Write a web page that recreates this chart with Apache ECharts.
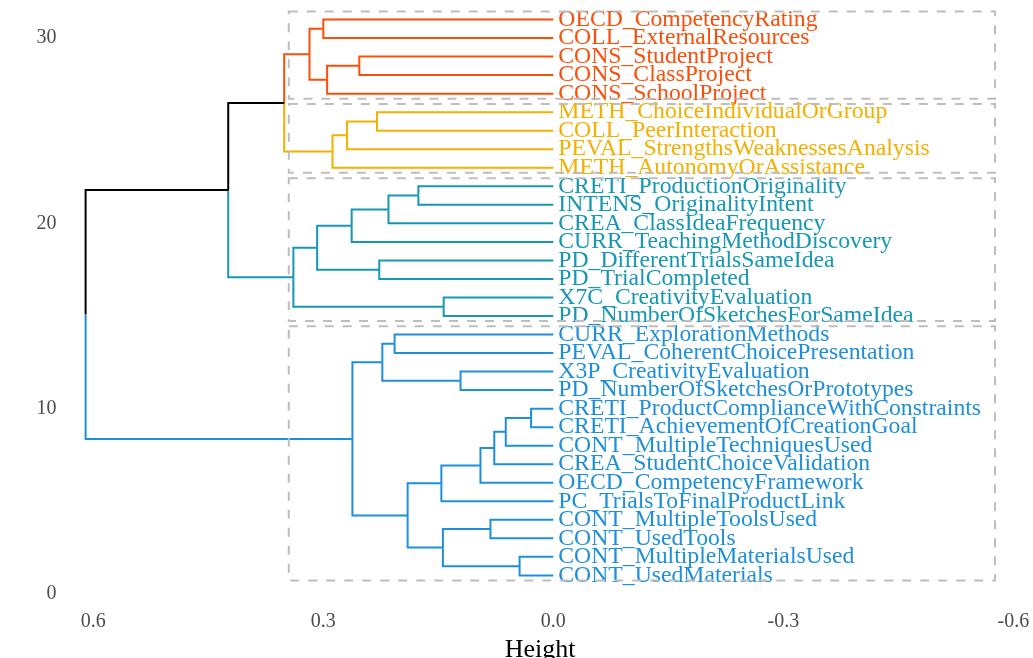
<!DOCTYPE html>
<html>
<head>
<meta charset="utf-8">
<script src="https://cdn.jsdelivr.net/npm/echarts@6/dist/echarts.min.js"></script>
<style>
  html, body { margin: 0; padding: 0; background: #ffffff; }
  #chart { width: 1033px; height: 658px; }
</style>
</head>
<body>
<div id="chart"></div>
<script>
// Leaf labels, top to bottom as drawn
const leafLabels = [
  "OECD_CompetencyRating",
  "COLL_ExternalResources",
  "CONS_StudentProject",
  "CONS_ClassProject",
  "CONS_SchoolProject",
  "METH_ChoiceIndividualOrGroup",
  "COLL_PeerInteraction",
  "PEVAL_StrengthsWeaknessesAnalysis",
  "METH_AutonomyOrAssistance",
  "CRETI_ProductionOriginality",
  "INTENS_OriginalityIntent",
  "CREA_ClassIdeaFrequency",
  "CURR_TeachingMethodDiscovery",
  "PD_DifferentTrialsSameIdea",
  "PD_TrialCompleted",
  "X7C_CreativityEvaluation",
  "PD_NumberOfSketchesForSameIdea",
  "CURR_ExplorationMethods",
  "PEVAL_CoherentChoicePresentation",
  "X3P_CreativityEvaluation",
  "PD_NumberOfSketchesOrPrototypes",
  "CRETI_ProductComplianceWithConstraints",
  "CRETI_AchievementOfCreationGoal",
  "CONT_MultipleTechniquesUsed",
  "CREA_StudentChoiceValidation",
  "OECD_CompetencyFramework",
  "PC_TrialsToFinalProductLink",
  "CONT_MultipleToolsUsed",
  "CONT_UsedTools",
  "CONT_MultipleMaterialsUsed",
  "CONT_UsedMaterials"
];
// Cluster of each leaf (same order as leafLabels)
const leafCluster = [
  4,4,4,4,4,
  3,3,3,3,
  2,2,2,2,2,2,2,2,
  1,1,1,1,1,1,1,1,1,1,1,1,1,1
];
// hclust-style merges: negative = leaf position counted from the bottom (1 = lowest), positive = earlier merge
const mergeLeft   = [-10, -2, 1, 3, -4, 4, -12, -16, 5, 6, -22, 10, -14, 11, 13, -18, -26, -29, 15, 14, 17, 21, 18, -31, 20, 24, 25, 26, 28, 29];
const mergeRight  = [-9, -1, -8, -7, -3, -6, -11, -15, 2, -5, -21, 9, -13, -20, 7, -17, -25, -28, 12, -19, -24, -23, -27, -30, 16, 23, 8, 22, 27, 19];
const mergeHeight = [0.029, 0.044, 0.062, 0.077, 0.082, 0.095, 0.121, 0.143, 0.144, 0.146, 0.176, 0.190, 0.207, 0.215, 0.223, 0.227, 0.230, 0.253, 0.262, 0.263, 0.269, 0.288, 0.295, 0.300, 0.308, 0.318, 0.339, 0.351, 0.424, 0.610];
const numClusters = 4;
// Axis ticks
const xTicks = [0.6, 0.3, 0, -0.3, -0.6];
const yTicks = [0, 10, 20, 30];

// ---- styling (not data) ----
const clusterColors = { 1: "#1E8FDA", 2: "#1697B4", 3: "#F4B000", 4: "#FA4F0A" };
const mixedColor = "#000000";
const FONT = "Liberation Serif";

const n = leafLabels.length;
const leafClusterByPos = {};
leafLabels.forEach((_, i) => { leafClusterByPos[n - i] = leafCluster[i]; });

const nodeY = [], nodeCl = [];
function child(ref) {
  if (ref < 0) return { y: -ref, h: 0, cl: leafClusterByPos[-ref] };
  return { y: nodeY[ref - 1], h: mergeHeight[ref - 1], cl: nodeCl[ref - 1] };
}
const links = [];
for (let m = 0; m < mergeHeight.length; m++) {
  const a = child(mergeLeft[m]), b = child(mergeRight[m]);
  nodeY[m] = (a.y + b.y) / 2;
  nodeCl[m] = (a.cl !== null && a.cl === b.cl) ? a.cl : null;
  const h = mergeHeight[m];
  [a, b].forEach(c => links.push([h, nodeY[m], c.h, c.y, c.cl === null ? 0 : c.cl]));
}

// cluster boxes
const nm = mergeHeight.length;
const cutH = (mergeHeight[nm - numClusters] + mergeHeight[nm - numClusters + 1]) / 2;
const boxes = [];
for (let k = 1; k <= numClusters; k++) {
  const pos = [];
  for (let p = 1; p <= n; p++) if (leafClusterByPos[p] === k) pos.push(p);
  boxes.push([cutH, Math.min(...pos) - 0.27, -0.576, Math.max(...pos) + 0.44]);
}

const labelData = leafLabels.map((name, i) => [0, n - i, leafCluster[i]]);

const chart = echarts.init(document.getElementById('chart'), null, { renderer: 'canvas' });
chart.setOption({
  animation: false,
  backgroundColor: '#ffffff',
  grid: { left: 62.6, right: 4.3, top: 1, bottom: 51.1, containLabel: false, outerBoundsMode: 'none' },
  xAxis: {
    type: 'value', inverse: true, min: -0.62, max: 0.64,
    name: 'Height', nameLocation: 'middle', nameGap: 22,
    nameTextStyle: { fontFamily: FONT, fontSize: 26, color: '#000000', padding: [0, 11, 0, 0] },
    axisLine: { show: false }, axisTick: { show: false }, splitLine: { show: false },
    axisLabel: {
      customValues: xTicks, margin: 5,
      fontFamily: FONT, fontSize: 20, color: '#4D4D4D',
      formatter: v => v.toFixed(1)
    }
  },
  yAxis: {
    type: 'value', min: -0.7, max: 32,
    axisLine: { show: false }, axisTick: { show: false }, splitLine: { show: false },
    axisLabel: {
      customValues: yTicks, margin: 6,
      fontFamily: FONT, fontSize: 20, color: '#4D4D4D'
    }
  },
  series: [
    {
      type: 'custom', name: 'links', z: 2,
      data: links,
      encode: { x: [0, 2], y: [1, 3] },
      renderItem: function (params, api) {
        const hp = api.value(0), yp = api.value(1), hc = api.value(2), yc = api.value(3);
        const cl = api.value(4);
        const p0 = api.coord([hp, yp]), p1 = api.coord([hp, yc]), p2 = api.coord([hc, yc]);
        return {
          type: 'polyline',
          shape: { points: [p0, p1, p2] },
          style: { fill: null, stroke: cl ? clusterColors[cl] : mixedColor, lineWidth: 2, lineJoin: 'miter', lineCap: 'butt' }
        };
      }
    },
    {
      type: 'custom', name: 'labels', z: 3,
      data: labelData,
      encode: { x: 0, y: 1 },
      renderItem: function (params, api) {
        const p = api.coord([api.value(0), api.value(1)]);
        const i = params.dataIndex;
        return {
          type: 'text',
          x: p[0] + 5, y: p[1],
          style: {
            text: leafLabels[i], fill: clusterColors[api.value(2)],
            font: '23.7px "' + FONT + '"', textAlign: 'left', textVerticalAlign: 'middle'
          }
        };
      }
    },
    {
      type: 'custom', name: 'boxes', z: 4,
      data: boxes,
      encode: { x: [0, 2], y: [1, 3] },
      renderItem: function (params, api) {
        const a = api.coord([api.value(0), api.value(3)]);
        const b = api.coord([api.value(2), api.value(1)]);
        return {
          type: 'rect',
          shape: { x: Math.min(a[0], b[0]), y: Math.min(a[1], b[1]), width: Math.abs(b[0] - a[0]), height: Math.abs(b[1] - a[1]) },
          style: { fill: null, stroke: '#BEBEBE', lineWidth: 2, lineDash: [9, 9] }
        };
      }
    }
  ]
});
</script>
</body>
</html>
